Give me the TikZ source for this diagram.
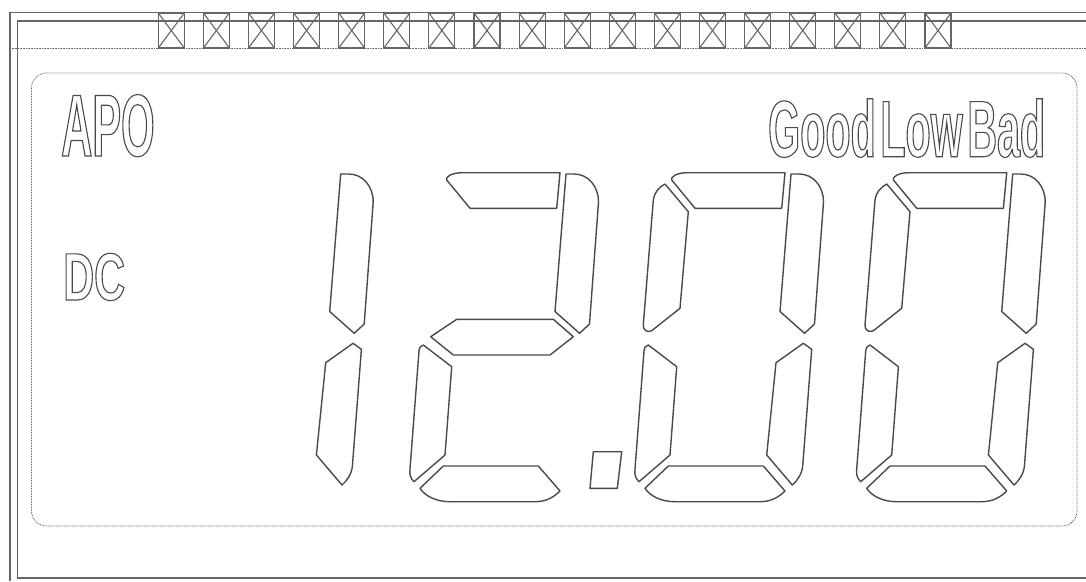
\documentclass[tikz,border=0pt]{standalone}
\usepackage{fontspec}
\setmainfont{Liberation Sans}
\newfontfamily\lcdfont[FakeStretch=0.49]{Liberation Sans Bold}
\newfontfamily\lcddcfont[FakeStretch=0.64]{Liberation Sans Bold}
\newfontfamily\lcdstatusfont[FakeStretch=0.515, WordSpace=0.4]{Liberation Sans Bold}
\newcommand{\hollow}[1]{\special{pdf:literal direct 1 Tr 1.1 w}#1\special{pdf:literal direct 0 Tr}}
\definecolor{lcdseg}{HTML}{4A4A4A}
\definecolor{lcdframe}{HTML}{666666}

% the seven segments of one digit (digit "2" frame, pixel units)
\tikzset{
  seg a/.pic={\draw[seg] (446.7,180) .. controls (445,177) and (452,172.7) .. (462,172.7)
      -- (560,172.7) -- (556.7,208.3) -- (470,208.3) -- cycle;},
  seg b/.pic={\draw[seg] (555,311.5) -- (566,174) -- (574,174)
      .. controls (588,174) and (598.5,186) .. (598.5,202) -- (589.5,324) -- (579.5,333.3) -- cycle;},
  seg c/.pic={\draw[seg] (578.3,343.3) -- (586.7,349.3) -- (577.7,466)
      .. controls (577,474) and (572,481) .. (567.3,485) -- (541.7,455) -- (551,362.7) -- cycle;},
  seg d/.pic={\draw[seg] (443.3,466) -- (538.3,466) -- (560,491)
      .. controls (553,498) and (545,501.7) .. (535,501.7) -- (450,501.7)
      .. controls (436,501.7) and (425,496) .. (420,488.3) -- cycle;},
  seg e/.pic={\draw[seg] (423.3,345) -- (451.7,366.7) -- (445,455) -- (414,481.7)
      .. controls (410,478) and (409.5,474) .. (410,469) -- (419,351)
      .. controls (419.3,347.5) and (421,345.5) .. (423.3,345) -- cycle;},
  seg f/.pic={\draw[seg] (440,184) -- (463.3,211.7) -- (455,308.3) -- (426.7,330.7)
      .. controls (422,333) and (418,330) .. (418.3,325) -- (428.3,200)
      .. controls (429,193) and (434,187) .. (440,184) -- cycle;},
  seg g/.pic={\draw[seg] (430.7,336.7) -- (456.7,319.3) -- (553.3,319.3) -- (573.3,336.7)
      -- (550,355) -- (453.3,355) -- cycle;}
}

\begin{document}
\begin{tikzpicture}[x=1pt, y=-1pt,
  frameline/.style={draw=lcdframe, line width=1.3pt},
  pinbox/.style={draw=lcdframe, line width=1.1pt},
  guide/.style={draw=lcdframe, line width=0.8pt, dash pattern=on 0.8pt off 0.8pt},
  seg/.style={draw=lcdseg, line width=1.4pt, line join=round},
  lcdtext/.style={inner sep=0pt, anchor=base west, text=lcdseg}]
  \useasboundingbox (0,0) rectangle (1086,581);

  % glass outline
  \draw[frameline] (10,581) -- (10,12.5) -- (1086,12.5);
  \draw[frameline] (1086,21) -- (17.5,21) -- (17.5,578) -- (1086,578);
  \draw[guide] (10,48.3) -- (1086,48.3);
  \draw[guide, rounded corners=15pt] (31.5,73) rectangle (1077,526);

  % pins
  \foreach \i in {0,...,17}{
    \draw[pinbox] ({158.3+45.1*\i},13) rectangle +(26,35);
    \draw[pinbox] ({158.3+45.1*\i},13) -- +(26,35);
    \draw[pinbox] ({184.3+45.1*\i},13) -- +(-26,35);
  }

  % annunciators
  \node[lcdtext, font=\lcdfont\fontsize{88}{88}\selectfont] (apo) at (61,156) {\hollow{APO}};
  \node[lcdtext, font=\lcddcfont\fontsize{67}{67}\selectfont] (dc) at (63,300) {\hollow{DC}};
  \node[lcdtext, font=\lcdstatusfont\fontsize{80}{80}\selectfont] (status) at (768,156.7) {\hollow{Good Low Bad}};

  % digits
  \foreach \dx/\segs in {-225.3/{b,c}, 0/{a,b,g,e,d}, 225/{a,b,c,d,e,f}, 446.7/{a,b,c,d,e,f}}{
    \foreach \s in \segs
      \pic at (\dx,0) {seg \s};
  }

  % decimal point
  \draw[seg] (593.3,451.7) -- (621.7,451.7) -- (617.3,488.3) -- (590,488.3) -- cycle;
\end{tikzpicture}
\end{document}
